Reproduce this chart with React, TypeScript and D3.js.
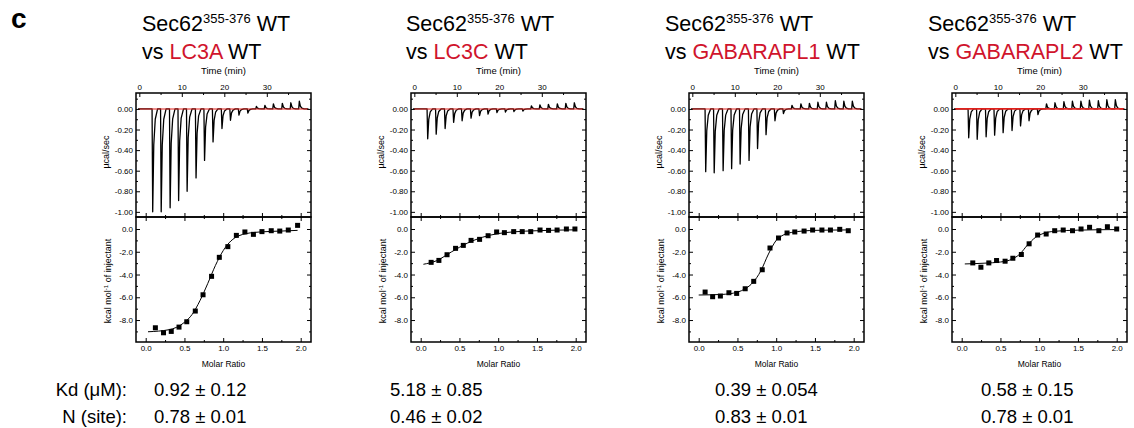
// App.tsx
import React, { useRef, useEffect } from 'react';
import * as d3 from 'd3';

// ---- data ----
const proteins = ['LC3A', 'LC3C', 'GABARAPL1', 'GABARAPL2'];
const kdText = ['0.92 ± 0.12', '5.18 ± 0.85', '0.39 ± 0.054', '0.58 ± 0.15'];
const nText = ['0.78 ± 0.01', '0.46 ± 0.02', '0.83 ± 0.01', '0.78 ± 0.01'];

// injection times (min)
const injectionTimes = [3, 5, 7.1, 9.1, 11.1, 13.2, 15.2, 17.2, 19.3, 21.3, 23.3, 25.4, 27.4, 29.4, 31.4, 33.5, 35.5, 37.5];

// peak heights of the raw thermograms (µcal/sec)
const peaksLC3A = [-1.0, -1.0, -0.96, -0.89, -0.8, -0.67, -0.5, -0.32, -0.19, -0.11, -0.06, -0.04, 0.025, 0.035, 0.05, 0.055, 0.06, 0.075];
const peaksLC3C = [-0.29, -0.245, -0.19, -0.13, -0.115, -0.09, -0.065, -0.05, -0.035, -0.03, -0.025, -0.02, 0.03, 0.04, 0.045, 0.05, 0.055, 0.06];
const peaksL1 = [-0.61, -0.62, -0.6, -0.58, -0.535, -0.5, -0.385, -0.25, -0.115, -0.045, 0.035, 0.05, 0.055, 0.065, 0.065, 0.08, 0.075, 0.075];
const peaksL2 = [-0.28, -0.295, -0.27, -0.255, -0.23, -0.21, -0.165, -0.115, -0.055, 0.05, 0.06, 0.07, 0.075, 0.075, 0.085, 0.08, 0.09, 0.09];

// integrated heats
const ratioLC3A = [0.125, 0.23, 0.33, 0.43, 0.53, 0.64, 0.74, 0.85, 0.95, 1.06, 1.17, 1.28, 1.39, 1.5, 1.62, 1.73, 1.84, 1.96];
const heatLC3A = [-8.68, -9.12, -9.0, -8.62, -8.15, -7.21, -5.78, -4.16, -2.49, -1.55, -0.56, -0.26, -0.47, -0.23, -0.15, -0.18, -0.09, 0.32];
const ratioLC3C = [0.135, 0.235, 0.34, 0.45, 0.55, 0.65, 0.76, 0.87, 0.98, 1.08, 1.2, 1.31, 1.42, 1.54, 1.65, 1.76, 1.88, 1.99];
const heatLC3C = [-2.93, -2.76, -2.26, -1.7, -1.44, -1.0, -0.91, -0.59, -0.26, -0.32, -0.23, -0.23, -0.23, -0.09, -0.12, -0.09, 0, 0];
const ratioL1 = [0.083, 0.18, 0.28, 0.39, 0.49, 0.6, 0.71, 0.82, 0.92, 1.03, 1.14, 1.24, 1.36, 1.47, 1.59, 1.7, 1.82, 1.93];
const heatL1 = [-5.54, -5.95, -5.89, -5.6, -5.66, -5.25, -4.6, -3.58, -1.67, -0.79, -0.35, -0.26, -0.18, -0.09, -0.09, -0.09, -0.03, -0.15];
const ratioL2 = [0.143, 0.248, 0.35, 0.45, 0.56, 0.66, 0.77, 0.87, 0.98, 1.09, 1.2, 1.31, 1.43, 1.54, 1.65, 1.77, 1.88, 2.0];
const heatL2 = [-2.98, -3.36, -2.98, -2.77, -2.83, -2.57, -2.24, -1.3, -0.53, -0.44, -0.15, -0.09, -0.15, 0, 0.15, -0.15, 0.2, 0];

// fitted curves
const fitLC3A = [[0.03, -9.03], [0.3, -8.85], [0.5, -8.2], [0.6, -7.5], [0.7, -6.3], [0.8, -4.8], [0.9, -3.2], [1.0, -1.9], [1.1, -1.05], [1.2, -0.6], [1.3, -0.4], [1.5, -0.25], [1.75, -0.18], [1.96, -0.12]];
const fitLC3C = [[0.035, -3.1], [0.2, -2.8], [0.4, -2.0], [0.6, -1.25], [0.8, -0.72], [1.0, -0.4], [1.2, -0.25], [1.5, -0.15], [2.0, -0.07]];
const fitL1 = [[0.0, -5.8], [0.3, -5.75], [0.5, -5.55], [0.6, -5.25], [0.7, -4.7], [0.8, -3.7], [0.9, -2.2], [1.0, -1.0], [1.1, -0.5], [1.2, -0.3], [1.5, -0.12], [1.95, -0.08]];
const fitL2 = [[0.04, -3.07], [0.3, -3.0], [0.5, -2.9], [0.65, -2.65], [0.75, -2.2], [0.85, -1.4], [0.95, -0.75], [1.05, -0.4], [1.2, -0.2], [1.5, -0.1], [2.0, -0.05]];

// tick labels
const timeTicks = [0, 10, 20, 30];
const rateTicks = [0, -0.2, -0.4, -0.6, -0.8, -1.0];
const heatTicks = [0, -2, -4, -6, -8];
const ratioTicks = [0, 0.5, 1.0, 1.5, 2.0];

const panels = [
  { peaks: peaksLC3A, ratio: ratioLC3A, heat: heatLC3A, fit: fitLC3A },
  { peaks: peaksLC3C, ratio: ratioLC3C, heat: heatLC3C, fit: fitLC3C },
  { peaks: peaksL1, ratio: ratioL1, heat: heatL1, fit: fitL1 },
  { peaks: peaksL2, ratio: ratioL2, heat: heatL2, fit: fitL2 },
];

// ---- layout ----
const panelLeft = [136, 411, 689, 952];
const titleLeft = [142, 406, 665, 928];
const valueLeft = [154, 390, 715, 981];
const PW = 175;
const TOP_Y0 = 93, MID_Y = 217, BOT_Y1 = 342;
const FONT = '"Liberation Sans", Arial, Helvetica, sans-serif';
const RED = '#d0142c';

const App = () => {
  const ref = useRef<SVGSVGElement>(null);

  useEffect(() => {
    const svg = d3.select(ref.current);
    svg.selectAll('*').remove();
    svg.attr('font-family', FONT);

    svg.append('text').attr('x', 11).attr('y', 28).attr('font-size', 28).attr('font-weight', 'bold').text('c');

    panels.forEach((p, i) => {
      // titles
      const t1 = svg.append('text').attr('x', titleLeft[i]).attr('y', 31).attr('font-size', 21.5);
      t1.append('tspan').text('Sec62');
      t1.append('tspan').attr('font-size', 13).attr('dy', -8).text('355-376');
      t1.append('tspan').attr('dy', 8).text(' WT');
      const t2 = svg.append('text').attr('x', titleLeft[i]).attr('y', 58.5).attr('font-size', 21.5);
      t2.append('tspan').text('vs ');
      t2.append('tspan').attr('fill', RED).text(proteins[i]);
      t2.append('tspan').text(' WT');

      const g = svg.append('g').attr('transform', `translate(${panelLeft[i]},0)`);

      const xt = d3.scaleLinear().domain([-0.78, 40.4]).range([0, PW]);
      const yt = d3.scaleLinear().domain([-1.05, 0.155]).range([MID_Y, TOP_Y0]);
      const xm = d3.scaleLinear().domain([-0.125, 2.133]).range([0, PW]);
      const ym = d3.scaleLinear().domain([-9.93, 1.055]).range([BOT_Y1, MID_Y]);

      const axes = (axis: any, tr: string, vals: number[], size: number, fmt: any) => {
        const a = g.append('g').attr('transform', tr)
          .call(axis.tickValues(vals).tickSize(size).tickPadding(3).tickFormat(fmt));
        a.select('.domain').remove();
        a.selectAll('.tick line').attr('stroke', '#000').attr('stroke-width', 1);
        a.selectAll('text').attr('font-size', 8).attr('font-family', FONT).attr('fill', '#000');
      };
      const none = () => '';
      const timeMinor = [5, 15, 25, 35];
      const rateMinor = [0.1, -0.1, -0.3, -0.5, -0.7, -0.9];
      const heatMinor = [-1, -3, -5, -7, -9];
      const ratioMinor = [0.25, 0.75, 1.25, 1.75];

      // top panel
      axes(d3.axisTop(xt), `translate(0,${TOP_Y0})`, timeTicks, -4, d3.format('d'));
      axes(d3.axisTop(xt), `translate(0,${TOP_Y0})`, timeMinor, -2, none);
      axes(d3.axisBottom(xm), `translate(0,${MID_Y})`, ratioTicks, -4, none);
      axes(d3.axisBottom(xm), `translate(0,${MID_Y})`, ratioMinor, -2, none);
      axes(d3.axisLeft(yt), 'translate(0,0)', rateTicks, -4, d3.format('.2f'));
      axes(d3.axisLeft(yt), 'translate(0,0)', rateMinor, -2, none);
      axes(d3.axisRight(yt), `translate(${PW},0)`, rateTicks, -4, none);
      axes(d3.axisRight(yt), `translate(${PW},0)`, rateMinor, -2, none);

      // bottom panel
      axes(d3.axisBottom(xm), `translate(0,${BOT_Y1})`, ratioTicks, -4, d3.format('.1f'));
      axes(d3.axisBottom(xm), `translate(0,${BOT_Y1})`, ratioMinor, -2, none);
      axes(d3.axisTop(xm), `translate(0,${MID_Y})`, ratioTicks, -4, none);
      axes(d3.axisTop(xm), `translate(0,${MID_Y})`, ratioMinor, -2, none);
      axes(d3.axisLeft(ym), 'translate(0,0)', heatTicks, -4, d3.format('.1f'));
      axes(d3.axisLeft(ym), 'translate(0,0)', heatMinor, -2, none);
      axes(d3.axisRight(ym), `translate(${PW},0)`, heatTicks, -4, none);
      axes(d3.axisRight(ym), `translate(${PW},0)`, heatMinor, -2, none);

      g.selectAll('.tick text').text(function () {
        return (d3.select(this).text() || '').replace('−', '-');
      });

      // thermogram
      const pts: [number, number][] = [[-0.3, 0]];
      injectionTimes.forEach((t, k) => {
        const v = p.peaks[k];
        pts.push([t, 0], [t + 0.15, v], [t + 0.4, v * 0.35], [t + 0.75, v * 0.1], [t + 1.3, 0]);
      });
      pts.push([39.8, 0]);
      g.append('path')
        .attr('d', d3.line().x(d => xt(d[0])).y(d => yt(d[1]))(pts))
        .attr('fill', 'none').attr('stroke', '#000').attr('stroke-width', 1.3)
        .attr('stroke-linejoin', 'round');
      g.append('line')
        .attr('x1', xt(0)).attr('x2', xt(39.6)).attr('y1', yt(0)).attr('y2', yt(0))
        .attr('stroke', '#e0201c').attr('stroke-width', i === 3 ? 1.8 : 1.1);

      // fit curve
      g.append('path')
        .attr('d', d3.line().curve(d3.curveMonotoneX).x((d: any) => xm(d[0])).y((d: any) => ym(d[1]))(p.fit as any))
        .attr('fill', 'none').attr('stroke', '#000').attr('stroke-width', 1);

      // integrated points
      g.selectAll('.pt').data(p.ratio).enter().append('rect')
        .attr('x', (d, k) => xm(d) - 2.5).attr('y', (d, k) => ym(p.heat[k]) - 2.5)
        .attr('width', 5).attr('height', 5).attr('fill', '#000');

      // frames
      g.append('rect').attr('x', 0).attr('y', TOP_Y0).attr('width', PW).attr('height', MID_Y - TOP_Y0)
        .attr('fill', 'none').attr('stroke', '#000').attr('stroke-width', 1.5);
      g.append('rect').attr('x', 0).attr('y', MID_Y).attr('width', PW).attr('height', BOT_Y1 - MID_Y)
        .attr('fill', 'none').attr('stroke', '#000').attr('stroke-width', 1.5);

      // axis titles
      g.append('text').attr('x', PW / 2).attr('y', 74).attr('text-anchor', 'middle').attr('font-size', 9.5).text('Time (min)');
      g.append('text').attr('x', PW / 2).attr('y', 367).attr('text-anchor', 'middle').attr('font-size', 8.5).text('Molar Ratio');
      g.append('text').attr('transform', `translate(-27,152) rotate(-90)`).attr('text-anchor', 'middle')
        .attr('font-size', 9).text('µcal/sec');
      const kl = g.append('text').attr('transform', `translate(-25,281) rotate(-90)`).attr('text-anchor', 'middle').attr('font-size', 9);
      kl.append('tspan').text('kcal mol');
      kl.append('tspan').attr('font-size', 6).attr('dy', -3.5).text('-1');
      kl.append('tspan').attr('dy', 3.5).text(' of injectant');

      // fitted parameters
      svg.append('text').attr('x', valueLeft[i]).attr('y', 396).attr('font-size', 18.5).text(kdText[i]);
      svg.append('text').attr('x', valueLeft[i]).attr('y', 423).attr('font-size', 18.5).text(nText[i]);
    });

    svg.append('text').attr('x', 127).attr('y', 396).attr('text-anchor', 'end').attr('font-size', 18.5).text('Kd (μM):');
    svg.append('text').attr('x', 127).attr('y', 423).attr('text-anchor', 'end').attr('font-size', 18.5).text('N (site):');
  }, []);

  return (
    <svg ref={ref} width={1134} height={428}
      style={{ position: 'absolute', left: 0, top: 0, background: '#fff' }} />
  );
};

export default App;
